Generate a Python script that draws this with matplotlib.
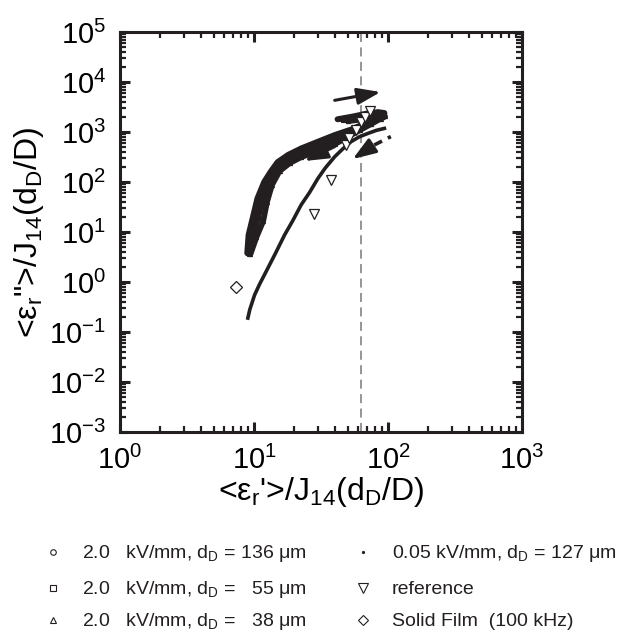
import matplotlib
matplotlib.use('Agg')
import numpy as np
import matplotlib.pyplot as plt
from matplotlib.lines import Line2D
from matplotlib.ticker import LogLocator, NullFormatter

plt.rcParams['font.family'] = ['Liberation Sans', 'DejaVu Sans']
plt.rcParams['mathtext.fontset'] = 'custom'
plt.rcParams['mathtext.rm'] = 'Liberation Sans'
plt.rcParams['axes.unicode_minus'] = False

INK = '#231f20'

# 2.0 kV/mm sweeps (forward branch, then return branch at the top of the loop)
x_136 = [8.9, 9.1, 9.9, 10.6, 11.9, 13.3, 15.0, 18, 22.5, 30, 40, 53, 66, 80, 92, 94, 84, 70, 55, 42]
y_136 = [3.8, 8.7, 22, 47, 100, 160, 250, 350, 470, 640, 870, 1120, 1450, 1850, 2150, 2400, 2500, 2350, 2050, 1800]
x_55 = [9.2, 9.7, 10.7, 11.5, 12.7, 14.3, 16.5, 20, 26, 35, 46, 58, 70, 84, 93, 88, 76, 60, 46]
y_55 = [3.7, 8.2, 19, 43, 93, 162, 245, 340, 470, 640, 880, 1150, 1450, 1850, 2200, 2250, 2150, 1950, 1750]
x_38 = [9.4, 10.4, 11.7, 12.5, 13.6, 15.5, 18.5, 22.5, 30, 40, 50, 62, 75, 88, 95, 90, 80, 65, 50]
y_38 = [3.6, 7.8, 16.5, 40, 87, 165, 240, 315, 420, 570, 800, 1100, 1450, 1850, 2050, 2000, 1950, 1800, 1650]

# 0.05 kV/mm sweep
x_low = [9.0, 9.3, 10.1, 11.0, 12.7, 14.5, 16.9, 19.5, 22.5, 26, 30, 34, 40, 46, 53, 61, 71, 82, 94]
y_low = [0.19, 0.28, 0.55, 0.9, 1.9, 3.8, 8.7, 17, 35, 62, 118, 190, 320, 460, 640, 800, 940, 1080, 1180]
x_low_ret = [79, 105]
y_low_ret = [550, 810]

# reference values and solid film
x_ref = [28, 37.7, 48.8, 51.5, 57.8, 63, 67, 72.8]
y_ref = [23, 110, 550, 745, 1100, 1620, 2000, 2630]
x_film = [7.3]
y_film = [0.78]

x_mark = 63  # vertical guide

# sweep direction arrows: (x_tail, y_tail, x_head, y_head)
arrows = [(40, 4300, 88, 6300), (40, 510, 23.9, 263), (72.7, 480, 54.6, 288)]

fig = plt.figure(figsize=(6.21, 6.31), dpi=100)
ax = fig.add_axes([120 / 621, 1 - 432 / 631, 402 / 621, 400 / 631])

ax.axvline(x_mark, color='#8c8c8c', lw=1.3, ls=(0, (5, 3)), zorder=1)

for xs, ys, m in [(x_136, y_136, 'o'), (x_55, y_55, 's'), (x_38, y_38, '^')]:
    ax.plot(xs, ys, '-', color=INK, lw=4.2, solid_capstyle='round',
            solid_joinstyle='round', zorder=2)
    ax.plot(xs, ys, m, ms=3, mfc='none', mec=INK, mew=0.8, zorder=2)

ax.plot(x_low, y_low, '-', color=INK, lw=2.6, solid_joinstyle='round', zorder=3)
ax.plot(x_low_ret, y_low_ret, '-', color=INK, lw=2.6, ls=(0, (2.4, 1.8)), zorder=3)

ax.plot(x_ref, y_ref, 'v', ms=7.5, mfc='white', mec=INK, mew=0.9, zorder=4)
ax.plot(x_film, y_film, 'D', ms=6, mfc='white', mec=INK, mew=0.9, zorder=4)

for x0, y0, x1, y1 in arrows:
    ax.annotate('', xy=(x1, y1), xytext=(x0, y0),
                arrowprops=dict(arrowstyle='-|>,head_length=1.4,head_width=0.5',
                                color=INK, lw=2.2, shrinkA=0, shrinkB=0),
                zorder=5)

ax.set_xscale('log')
ax.set_yscale('log')
ax.set_xlim(1, 1e3)
ax.set_ylim(1e-3, 1e5)
for axis in (ax.xaxis, ax.yaxis):
    axis.set_major_locator(LogLocator(base=10, numticks=12))
    axis.set_minor_locator(LogLocator(base=10, subs=np.arange(2, 10), numticks=12))
    axis.set_minor_formatter(NullFormatter())

for s in ax.spines.values():
    s.set_linewidth(2.2)
    s.set_color(INK)
    s.set_zorder(6)
ax.tick_params(which='both', direction='in', top=True, right=True, labelsize=21,
               color=INK)
ax.tick_params(which='major', length=7.5, width=2.2, pad=10)
ax.tick_params(which='minor', length=4.5, width=1.6)

ax.set_xlabel("<\u03b5$_\\mathdefault{r}$'>/J$_\\mathdefault{14}$(d$_\\mathdefault{D}$/D)",
              fontsize=23, labelpad=0)
ax.set_ylabel('<\u03b5$_\\mathdefault{r}$">/J$_\\mathdefault{14}$(d$_\\mathdefault{D}$/D)',
              fontsize=23, labelpad=2)

# legend below the axes
leg_rows = [552, 588, 620]
leg_left = [
    ('o', 4, '2.0   kV/mm, d$_\\mathdefault{D}$ = 136 \u03bcm'),
    ('s', 4, '2.0   kV/mm, d$_\\mathdefault{D}$ =   55 \u03bcm'),
    ('^', 4, '2.0   kV/mm, d$_\\mathdefault{D}$ =   38 \u03bcm'),
]
leg_right = [
    ('.', 3, '0.05 kV/mm, d$_\\mathdefault{D}$ = 127 \u03bcm'),
    ('v', 7, 'reference'),
    ('D', 5.5, 'Solid Film  (100 kHz)'),
]
for (mx, tx), entries in [((53, 82), leg_left), ((363, 392), leg_right)]:
    for row, (m, ms, label) in zip(leg_rows, entries):
        fc = INK if m == '.' else 'none'
        fig.add_artist(Line2D([mx / 621], [1 - row / 631], transform=fig.transFigure,
                              marker=m, ms=ms, mfc=fc, mec=INK, mew=0.8, ls='none'))
        fig.text(tx / 621, 1 - (row + 6.5) / 631, label, fontsize=14, color=INK,
                 ha='left', va='baseline')

fig.savefig('out.png', dpi=100)
